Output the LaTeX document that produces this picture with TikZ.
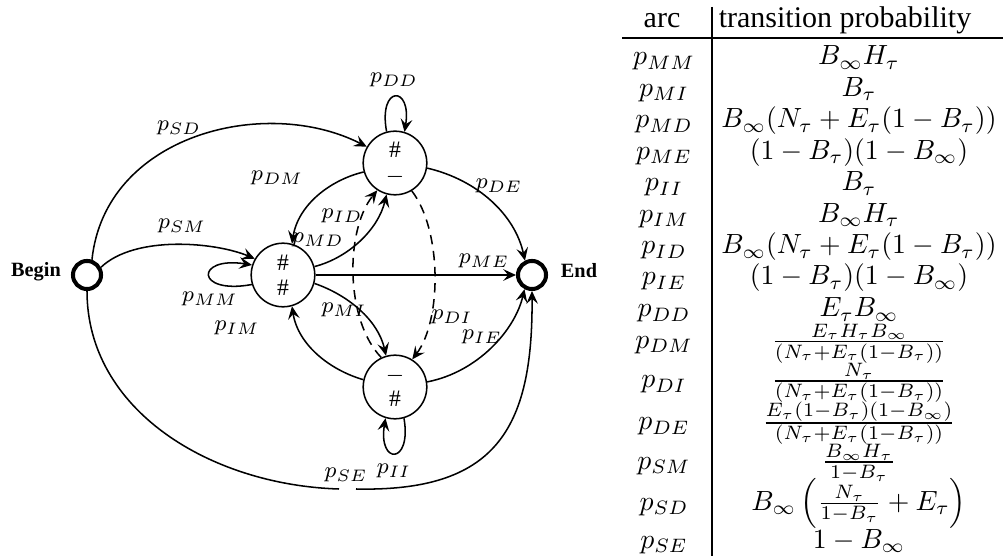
\documentclass[tikz,border=0pt]{standalone}
\usepackage{fontspec}
\setmainfont{Liberation Serif}
\usetikzlibrary{arrows.meta}
\begin{document}
\begin{tikzpicture}[x=0.36pt,y=-0.36pt,
  lab/.style={font=\fontsize{8}{9.5}\selectfont, inner sep=0pt},
  state/.style={draw, circle, line width=0.55pt, minimum size=22.9pt, inner sep=0pt, align=center, font=\fontsize{8.5}{9}\selectfont},
  term/.style={draw, circle, line width=1.45pt, minimum size=10.1pt, inner sep=0pt},
  termtxt/.style={font=\fontsize{7.3}{8}\selectfont\bfseries, inner sep=0pt, anchor=base},
  conn/.style={line width=0.55pt},
  arr/.style={conn, -{Stealth[length=4.6pt,width=4.2pt,inset=1.8pt]}},
  dsh/.style={arr, dash pattern=on 3.4pt off 2.4pt},
  cell/.style={font=\fontsize{10}{12}\selectfont, inner sep=0pt, anchor=base},
  hdr/.style={font=\fontsize{10.8}{13}\selectfont, inner sep=0pt, anchor=base},
  rule/.style={line width=0.4pt}
]
\useasboundingbox (0,0) rectangle (1003,556);

% ---------------- diagram ----------------
\node[term] (Begin) at (87,275) {};
\node[term] (End) at (532,275) {};
\node[termtxt] (BeginT) at (36,277) {Begin};
\node[termtxt] (EndT) at (579,278) {End};
\node[state] (M) at (283,275) {$\#$\\$\#$};
\node[state] (D) at (395,163) {$\#$\\$-$};
\node[state] (I) at (395,387) {$-$\\$\#$};

\draw[arr] (Begin.72) .. controls (105,135) and (265,95) .. (D.150);
\draw[arr] (Begin.29) .. controls (135,235) and (215,242) .. (M.150);
\draw[arr] (M.197) .. controls (195,295) and (195,256) .. (M.162);
\draw[arr] (M) -- (End);
\draw[arr] (M.15) .. controls (348,258) and (378,230) .. (D.-105);
\draw[arr] (D.196) .. controls (330,180) and (298,205) .. (M.74);
\draw[arr] (M.-15) .. controls (348,295) and (378,320) .. (I.106);
\draw[arr] (I.167) .. controls (330,370) and (298,345) .. (M.-74);
\draw[dsh] (I.115) .. controls (345,320) and (345,230) .. (D.-123);
\draw[dsh] (D.-59) .. controls (442,230) and (442,320) .. (I.58);
\draw[arr] (D.105) .. controls (378,85) and (412,85) .. (D.73);
\draw[arr] (I.-74) .. controls (412,465) and (378,465) .. (I.-107);
\draw[arr] (D.-9) .. controls (478,180) and (515,215) .. (End.116);
\draw[arr] (I.9) .. controls (478,372) and (515,330) .. (End.-118);
\coordinate (gL) at (339,489);
\coordinate (gR) at (356,489);
\draw[conn] (Begin.-90) .. controls (87,410) and (210,485) .. (gL);
\draw[arr] (gR) .. controls (495,492) and (533,430) .. (End.-90);

\node[lab] (lDD) at (394,80) {$p_{DD}$};
\node[lab] (lSD) at (179,128) {$p_{SD}$};
\node[lab] (lDM) at (277,178) {$p_{DM}$};
\node[lab] (lDE) at (499,186) {$p_{DE}$};
\node[lab] (lID) at (342,216) {$p_{ID}$};
\node[lab] (lSM) at (182,226) {$p_{SM}$};
\node[lab] (lMD) at (318,240) {$p_{MD}$};
\node[lab] (lME) at (484,261) {$p_{ME}$};
\node[lab] (lMM) at (210,299) {$p_{MM}$};
\node[lab] (lMI) at (344,310) {$p_{MI}$};
\node[lab] (lDI) at (452,317) {$p_{DI}$};
\node[lab] (lIM) at (237,328) {$p_{IM}$};
\node[lab] (lIE) at (482,337) {$p_{IE}$};
\node[lab] (lSE) at (346,475) {$p_{SE}$};
\node[lab] (lII) at (394,471) {$p_{II}$};

% ---------------- table ----------------
\draw[rule] (712,7) -- (712,556);
\draw[rule] (622,38) -- (1003,38);
\node[hdr] (hArc) at (662,28) {arc};
\node[hdr] (hTP) at (845,28) {transition probability};

\node[cell] (aMM) at (664,65) {$p_{MM}$};
\node[cell] (fMM) at (859,65) {$B_\infty H_\tau$};
\node[cell] (aMI) at (664,96.5) {$p_{MI}$};
\node[cell] (fMI) at (859,96.5) {$B_\tau$};
\node[cell] (aMD) at (664,128) {$p_{MD}$};
\node[cell] (fMD) at (859,128) {$B_\infty(N_\tau+E_\tau(1-B_\tau))$};
\node[cell] (aME) at (664,159.5) {$p_{ME}$};
\node[cell] (fME) at (859,159.5) {$(1-B_\tau)(1-B_\infty)$};
\node[cell] (aII) at (664,191) {$p_{II}$};
\node[cell] (fII) at (859,191) {$B_\tau$};
\node[cell] (aIM) at (664,222.5) {$p_{IM}$};
\node[cell] (fIM) at (859,222.5) {$B_\infty H_\tau$};
\node[cell] (aID) at (664,254) {$p_{ID}$};
\node[cell] (fID) at (859,254) {$B_\infty(N_\tau+E_\tau(1-B_\tau))$};
\node[cell] (aIE) at (664,285) {$p_{IE}$};
\node[cell] (fIE) at (859,285) {$(1-B_\tau)(1-B_\infty)$};
\node[cell] (aDD) at (664,317) {$p_{DD}$};
\node[cell] (fDD) at (859,317) {$E_\tau B_\infty$};
\node[cell] (aDM) at (664,348.5) {$p_{DM}$};
\node[cell] (fDM) at (859,348.5) {$\frac{E_\tau H_\tau B_\infty}{(N_\tau+E_\tau(1-B_\tau))}$};
\node[cell] (aDI) at (664,388) {$p_{DI}$};
\node[cell] (fDI) at (859,388) {$\frac{N_\tau}{(N_\tau+E_\tau(1-B_\tau))}$};
\node[cell] (aDE) at (664,430) {$p_{DE}$};
\node[cell] (fDE) at (859,430) {$\frac{E_\tau(1-B_\tau)(1-B_\infty)}{(N_\tau+E_\tau(1-B_\tau))}$};
\node[cell] (aSM) at (664,469) {$p_{SM}$};
\node[cell] (fSM) at (859,469) {$\frac{B_\infty H_\tau}{1-B_\tau}$};
\node[cell] (aSD) at (664,510) {$p_{SD}$};
\node[cell] (fSD) at (859,510) {$B_\infty\left(\frac{N_\tau}{1-B_\tau}+E_\tau\right)$};
\node[cell] (aSE) at (664,548) {$p_{SE}$};
\node[cell] (fSE) at (859,548) {$1-B_\infty$};
\end{tikzpicture}
\end{document}
